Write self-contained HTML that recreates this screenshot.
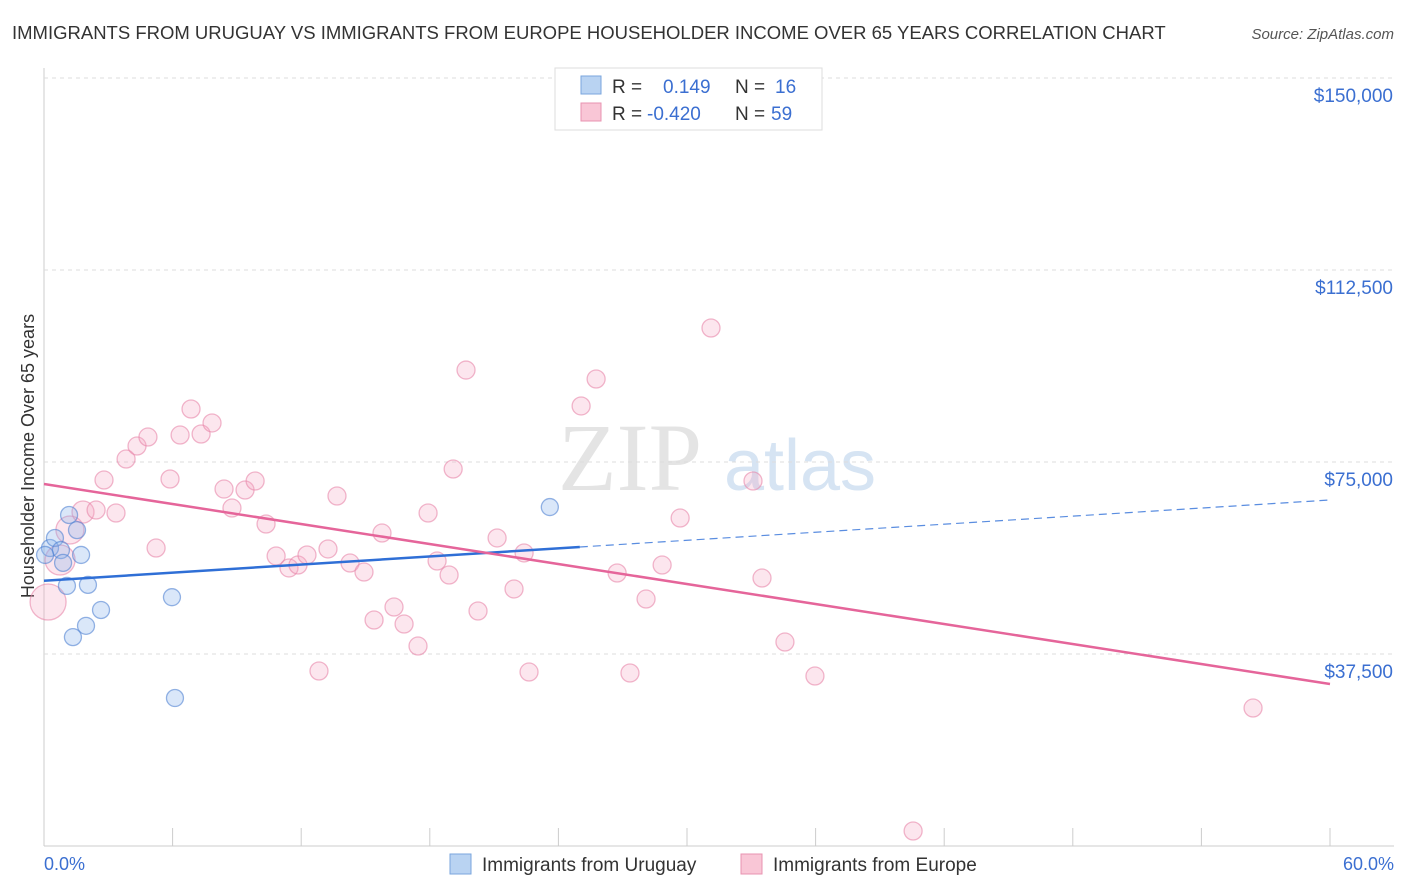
<!DOCTYPE html>
<html><head><meta charset="utf-8"><style>
body{margin:0;background:#fff;font-family:"Liberation Sans",sans-serif;}
svg{display:block}
</style></head><body>
<svg id="chart" width="1406" height="892">
<text x="12" y="39" font-size="18.5" fill="#333">IMMIGRANTS FROM URUGUAY VS IMMIGRANTS FROM EUROPE HOUSEHOLDER INCOME OVER 65 YEARS CORRELATION CHART</text>
<text x="1394" y="39" font-size="15" fill="#555" font-style="italic" text-anchor="end">Source: ZipAtlas.com</text>
<text transform="translate(34,456) rotate(-90)" font-size="18" fill="#333" text-anchor="middle">Householder Income Over 65 years</text>
<text x="630" y="490" font-size="96" fill="#e4e4e4" font-family="Liberation Serif,serif" text-anchor="middle">ZIP</text>
<text x="800" y="490" font-size="72" fill="#d6e4f3" text-anchor="middle">atlas</text>
<g id="grid"></g><g id="marks"></g>
<g>
<rect x="555" y="68" width="267" height="62" fill="#fff" stroke="#ddd"/>
<rect x="581" y="76" width="20" height="18" fill="#b9d3f2" stroke="#7aa6dd"/>
<rect x="581" y="103" width="20" height="18" fill="#f9c6d6" stroke="#e893b0"/>
<text x="612" y="93" font-size="19" fill="#333">R = <tspan x="663" fill="#3b6fd1">0.149</tspan><tspan x="735" fill="#333">N = </tspan><tspan x="775" fill="#3b6fd1">16</tspan></text>
<text x="612" y="120" font-size="19" fill="#333">R = <tspan x="647" fill="#3b6fd1">-0.420</tspan><tspan x="735" fill="#333">N = </tspan><tspan x="771" fill="#3b6fd1">59</tspan></text>
</g>
<g>
<rect x="450" y="854" width="21" height="20" fill="#b9d3f2" stroke="#7aa6dd"/>
<text x="482" y="871" font-size="19" fill="#333">Immigrants from Uruguay</text>
<rect x="741" y="854" width="21" height="20" fill="#f9c6d6" stroke="#e893b0"/>
<text x="773" y="871" font-size="19" fill="#333">Immigrants from Europe</text>
</g>
<text x="44" y="870" font-size="18" fill="#3b6fd1">0.0%</text>
<text x="1394" y="870" font-size="18" fill="#3b6fd1" text-anchor="end">60.0%</text>
</svg>
<script>
const yTicks=[37500,75000,112500,150000];
const yTickLabels=["$37,500","$75,000","$112,500","$150,000"];
const xTicks=[0,6,12,18,24,30,36,42,48,54,60];
const blueX=[0.28,0.51,0.79,1.17,1.54,1.73,0.89,1.07,2.05,2.66,1.96,1.35,5.97,6.11,23.6,0.05];
const blueY=[58200,60150,57800,64650,61700,56850,55300,50800,51000,46100,43000,40800,48600,28900,66200,56850];
const pinkX=[0.19,0.75,1.21,1.82,2.43,3.36,2.80,3.83,4.34,4.85,5.23,5.88,6.35,6.86,7.33,7.84,8.40,8.77,9.38,9.85,10.36,10.83,11.43,11.85,12.27,13.25,13.67,14.28,14.93,15.40,15.77,16.33,16.80,17.45,17.92,18.34,18.90,19.09,19.69,20.25,21.14,21.93,22.40,22.63,25.06,25.76,26.74,27.34,28.09,28.84,29.68,31.12,33.08,33.50,34.57,35.97,56.41,40.55,12.83];
const pinkY=[47650,55860,61720,65230,65620,65040,71480,75580,78120,79880,58200,71680,80270,85350,80470,82620,69720,66010,69530,71290,62890,56640,54300,54880,56840,58010,68360,55270,53510,44140,61130,46680,43360,39060,65040,55660,52930,73630,92960,45900,60160,50200,57230,33980,85940,91210,53320,33790,48240,54880,64060,101170,71290,52340,39840,33200,26950,2930,34180];
const pinkBig=[18,15,14,11];
const blueTrendX=[0,25,60];
const blueTrendY=[51800,58400,67580];
const pinkTrendX=[0,60];
const pinkTrendY=[70700,31640];
const sx=v=>44+v/60*1286;
const sy=v=>846-v/37500*192;
const NS="http://www.w3.org/2000/svg";
function mk(t,a,p){const e=document.createElementNS(NS,t);for(const k in a)e.setAttribute(k,a[k]);p.appendChild(e);return e;}
const g=document.getElementById('grid'),m=document.getElementById('marks');
mk('line',{x1:44,y1:68,x2:44,y2:846,stroke:'#ccc'},g);
mk('line',{x1:44,y1:846,x2:1394,y2:846,stroke:'#ccc'},g);
yTicks.forEach((v,i)=>{
 const l=mk('line',{x1:44,y1:sy(v),x2:1394,y2:sy(v),stroke:'#ddd','stroke-dasharray':'4,4'},g);
 
 
 const t=mk('text',{x:1393,y:sy(v)+24,'font-size':19,fill:'#3b6fd1','text-anchor':'end'},g);
 t.textContent=yTickLabels[i];
 
 
});
xTicks.forEach(v=>{
 const l=mk('line',{x1:sx(v),y1:828,x2:sx(v),y2:846,stroke:'#ccc'},g);
 
 
});
pinkX.forEach((x,i)=>{
 const c=mk('circle',{cx:sx(x),cy:sy(pinkY[i]),r:pinkBig[i]||9,fill:'rgba(244,165,195,0.28)',stroke:'rgba(232,135,170,0.6)','stroke-width':1.3},m);
 
 
});
blueX.forEach((x,i)=>{
 const c=mk('circle',{cx:sx(x),cy:sy(blueY[i]),r:8.5,fill:'rgba(140,180,235,0.32)',stroke:'rgba(80,130,210,0.6)','stroke-width':1.3},m);
 
 
});
const b1=mk('line',{x1:sx(blueTrendX[0]),y1:sy(blueTrendY[0]),x2:sx(blueTrendX[1]),y2:sy(blueTrendY[1]),stroke:'#2f6fd6','stroke-width':2.5},m);


const b2=mk('line',{x1:sx(blueTrendX[1]),y1:sy(blueTrendY[1]),x2:sx(blueTrendX[2]),y2:sy(blueTrendY[2]),stroke:'#5a8de0','stroke-width':1.2,'stroke-dasharray':'8,5'},m);


const p1=mk('line',{x1:sx(pinkTrendX[0]),y1:sy(pinkTrendY[0]),x2:sx(pinkTrendX[1]),y2:sy(pinkTrendY[1]),stroke:'#e5659a','stroke-width':2.5},m);


</script>
</body></html>
